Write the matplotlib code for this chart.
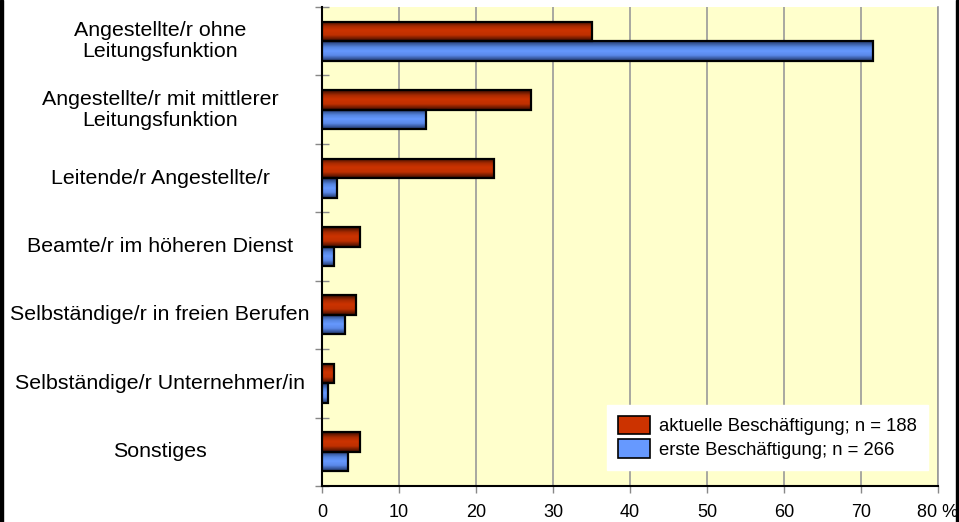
import matplotlib
matplotlib.use("Agg")
import matplotlib.pyplot as plt
import matplotlib.transforms as mtransforms
from matplotlib.colors import LinearSegmentedColormap
from matplotlib.patches import Rectangle, Patch
import numpy as np

plt.rcParams['font.family'] = ['Liberation Sans', 'DejaVu Sans']

categories = [
    "Angestellte/r ohne\nLeitungsfunktion",
    "Angestellte/r mit mittlerer\nLeitungsfunktion",
    "Leitende/r Angestellte/r",
    "Beamte/r im höheren Dienst",
    "Selbständige/r in freien Berufen",
    "Selbständige/r Unternehmer/in",
    "Sonstiges",
]
aktuelle = [35.1, 27.1, 22.3, 4.9, 4.4, 1.6, 4.9]
erste = [71.5, 13.5, 1.9, 1.5, 3.0, 0.8, 3.4]
series_labels = ["aktuelle Beschäftigung; n = 188", "erste Beschäftigung; n = 266"]
xticks = [0, 10, 20, 30, 40, 50, 60, 70, 80]
xticklabels = ["0", "10", "20", "30", "40", "50", "60", "70", "80 %"]

red_cmap = LinearSegmentedColormap.from_list(
    "r", [(0, "#3a0c00"), (0.25, "#a82a00"), (0.45, "#cc3300"), (0.7, "#c03000"), (1, "#3a0c00")])
blue_cmap = LinearSegmentedColormap.from_list(
    "b", [(0, "#22386a"), (0.3, "#5585e0"), (0.5, "#6699ff"), (0.72, "#5a88e8"), (1, "#1f3466")])

W, H = 959, 522
fig = plt.figure(figsize=(W / 100, H / 100), dpi=100)
ax = fig.add_axes([322 / W, 1 - 486 / H, (938 - 322) / W, (486 - 7) / H])
ax.set_facecolor("#FFFFCC")

n = len(categories)
y = np.arange(n)
h = 0.285

def grad_bars(ypos, vals, cmap, zorder):
    bars = ax.barh(ypos, vals, height=h, color="none", edgecolor="black", linewidth=1.6, zorder=zorder + 1)
    grad = np.linspace(0, 1, 64).reshape(-1, 1)
    for b in bars:
        x0, y0 = b.get_x(), b.get_y()
        w, hh = b.get_width(), b.get_height()
        ax.imshow(grad, cmap=cmap, aspect="auto", extent=(x0, x0 + w, y0 + hh, y0),
                  origin="upper", zorder=zorder, interpolation="bilinear")
    return bars

grad_bars(y - h / 2, aktuelle, red_cmap, 3)
grad_bars(y + h / 2, erste, blue_cmap, 3)

ax.set_xlim(0, 80)
ax.set_ylim(n - 0.5, -0.5)
ax.set_xticks(xticks)
ax.set_xticklabels(xticklabels, fontsize=13)
ax.xaxis.grid(True, color="#999999", linewidth=1.2)
ax.set_axisbelow(True)
ax.tick_params(axis="x", length=5, color="#888888", pad=8, width=1)

ax.set_yticks([])
ax.set_yticks(np.arange(n + 1) - 0.5, minor=True)
ax.tick_params(axis="y", which="minor", direction="inout", length=10, color="#888888", width=1)
ax.set_yticklabels([], minor=True)

ax.spines["top"].set_visible(False)
ax.spines["right"].set_color("#999999")
ax.spines["right"].set_linewidth(1.2)
ax.spines["left"].set_color("black")
ax.spines["left"].set_linewidth(1.5)
ax.spines["bottom"].set_color("black")
ax.spines["bottom"].set_linewidth(1.5)

trans = mtransforms.blended_transform_factory(fig.transFigure, ax.transData)
for i, lab in enumerate(categories):
    ax.text(160 / W, i, lab, transform=trans, ha="center", va="center",
            fontsize=15.4, linespacing=1.12, multialignment="center")

handles = [Patch(facecolor="#cc3300", edgecolor="black", linewidth=1.2),
           Patch(facecolor="#6699ff", edgecolor="black", linewidth=1.2)]
leg = ax.legend(handles, series_labels, loc="lower right", bbox_to_anchor=(928 / W, 1 - 470 / H),
                bbox_transform=fig.transFigure, fontsize=13.3, frameon=True, fancybox=False,
                edgecolor="white", facecolor="white", framealpha=1, handlelength=1.7,
                handleheight=1.15, handletextpad=0.5, labelspacing=0.22, borderpad=0.6,
                borderaxespad=0)
leg.set_zorder(10)

fig.add_artist(Rectangle((0, 0), 3 / W, 1, transform=fig.transFigure, color="black"))
fig.add_artist(Rectangle(((W - 3) / W, 0), 3 / W, 1, transform=fig.transFigure, color="black"))

fig.savefig("out.png", dpi=100)
